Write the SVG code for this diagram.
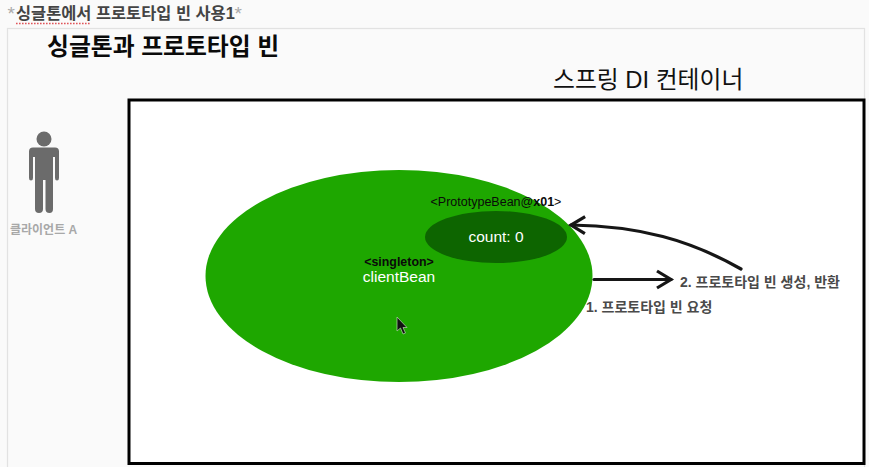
<svg xmlns="http://www.w3.org/2000/svg" width="869" height="467" viewBox="0 0 869 467">
<style>
text{font-family:"Liberation Sans","Noto Sans CJK KR",sans-serif}
.lab{font-size:14px;font-weight:700;fill:#4a4a4a}
.con{fill:none;stroke:#161616;stroke-width:3.2;stroke-linecap:round;stroke-linejoin:round}
</style>
<defs>
<marker id="arr" markerUnits="userSpaceOnUse" markerWidth="26" markerHeight="26" refX="20" refY="12" orient="auto"><path d="M6 3.500 L20 12 L6 20.500" fill="none" stroke="#161616" stroke-width="3.200"/></marker>
</defs>
<rect width="869" height="467" fill="#fafafa"/>
<rect x="7.500" y="28.500" width="857" height="440" fill="#fafafa" stroke="#e2e2e2" stroke-width="1.200"/>
<g id="page-title">
<text x="7.500" y="20" font-size="19" fill="#aaa">*</text>
<text x="16" y="19" font-size="16.400" font-weight="700" fill="#444">싱글톤에서 프로토타입 빈 사용1</text>
<text x="234.500" y="20" font-size="19" fill="#aaa">*</text>
<path d="M16 23.500H91" stroke="#e0555a" stroke-width="1.600" stroke-dasharray="1.600 1.400" fill="none"/>
</g>
<g id="slide-title"><text x="47" y="55" font-size="23.800" font-weight="700" fill="#0a0a0a">싱글톤과 프로토타입 빈</text></g>
<g id="container-label"><text x="553" y="88" font-size="23.800" fill="#111">스프링 DI 컨테이너</text></g>
<g id="container"><rect x="129" y="100" width="735" height="363.500" fill="#fff" stroke="#000" stroke-width="3"/></g>
<g id="client-a">
<circle cx="44" cy="139" r="7.500" fill="#6b6b6b"/>
<path d="M33 147.500H55Q59 147.500 59 151.500V178Q59 180.500 57 180.500Q55 180.500 55 178V157H53V209Q53 213 49.500 213Q45.500 213 45.500 209V180H43V209Q43 213 39 213Q35 213 35 209V157H33V178Q33 180.500 31 180.500Q29 180.500 29 178V151.500Q29 147.500 33 147.500Z" fill="#6b6b6b"/>
<text x="10" y="234" font-size="12" font-weight="700" fill="#a8a8a8">클라이언트 A</text>
</g>
<g id="clientBean">
<ellipse cx="399" cy="276" rx="193.500" ry="106" fill="#1ea700"/>
<text x="399" y="266" font-size="12.400" font-weight="700" fill="#0a0a0a" text-anchor="middle">&lt;singleton&gt;</text>
<text x="399" y="282" font-size="15.500" fill="#fff" text-anchor="middle">clientBean</text>
</g>
<g id="prototypeBean">
<ellipse cx="496" cy="237" rx="71" ry="26" fill="#0d6500"/>
<text x="496" y="206" font-size="12.500" fill="#0a0a0a" text-anchor="middle">&lt;PrototypeBean@<tspan font-weight="700">x01</tspan>&gt;</text>
<text x="496" y="242" font-size="15.500" fill="#fff" text-anchor="middle">count: 0</text>
</g>
<g id="connectors">
<path class="con" d="M594 279.500H671" marker-end="url(#arr)"/>
<path class="con" d="M741 269C690 240 640 226 571 225" marker-end="url(#arr)"/>
</g>
<g id="labels">
<text class="lab" x="680" y="287">2. 프로토타입 빈 생성, 반환</text>
<text class="lab" x="586" y="312">1. 프로토타입 빈 요청</text>
</g>
<path id="cursor" d="M397 317V331L400.500 328L403 334L405.500 333L403 327.500H407Z" fill="#111" stroke="#b9d8b0" stroke-width="0.700"/>
</svg>
